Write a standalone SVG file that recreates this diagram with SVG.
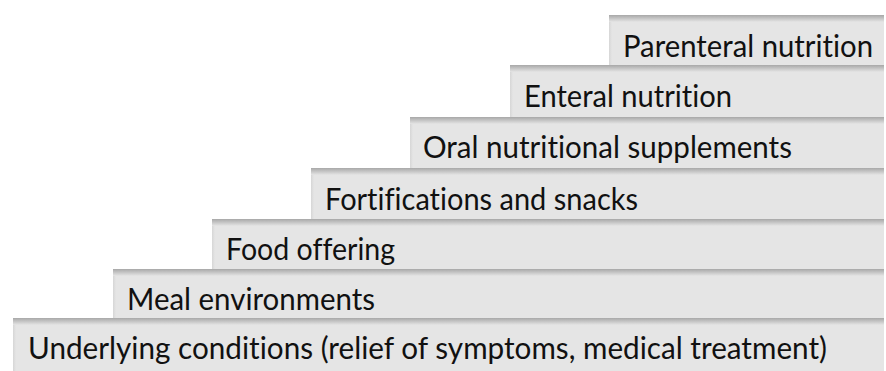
<svg xmlns="http://www.w3.org/2000/svg" width="886" height="371" viewBox="0 0 886 371">
  <defs>
    <linearGradient id="topShade" x1="0" y1="0" x2="0" y2="1">
      <stop offset="0" stop-color="#a8a8a8"/>
      <stop offset="0.5" stop-color="#c6c6c6"/>
      <stop offset="1" stop-color="#e5e5e5"/>
    </linearGradient>
    <linearGradient id="leftShade" x1="0" y1="0" x2="1" y2="0">
      <stop offset="0" stop-color="#d6d6d6"/>
      <stop offset="1" stop-color="#e5e5e5"/>
    </linearGradient>
  </defs>
  <style>
    .step { fill: #e5e5e5; }
    .shade { fill: url(#topShade); }
    .edge { fill: url(#leftShade); }
    .label { font-family: Lato, "Liberation Sans", sans-serif; font-size: 30px; fill: #111111; font-variant-ligatures: none; font-feature-settings: "liga" 0, "dlig" 0; }
  </style>

  <g id="step1">
    <rect class="step" x="13" y="318" width="871" height="53"/>
    <rect class="edge" x="13" y="318" width="3" height="53"/>
    <rect class="shade" x="13" y="318" width="871" height="7"/>
    <text class="label" x="28" y="359" textLength="799" lengthAdjust="spacingAndGlyphs">Underlying conditions (relief of symptoms, medical treatment)</text>
  </g>
  <g id="step2">
    <rect class="step" x="113" y="269" width="771" height="49"/>
    <rect class="edge" x="113" y="269" width="3" height="49"/>
    <rect class="shade" x="113" y="269" width="771" height="7"/>
    <text class="label" x="127" y="310" textLength="248" lengthAdjust="spacingAndGlyphs">Meal environments</text>
  </g>
  <g id="step3">
    <rect class="step" x="212" y="219" width="672" height="50"/>
    <rect class="edge" x="212" y="219" width="3" height="50"/>
    <rect class="shade" x="212" y="219" width="672" height="7"/>
    <text class="label" x="226" y="260" textLength="169" lengthAdjust="spacingAndGlyphs">Food offering</text>
  </g>
  <g id="step4">
    <rect class="step" x="311" y="168" width="573" height="51"/>
    <rect class="edge" x="311" y="168" width="3" height="51"/>
    <rect class="shade" x="311" y="168" width="573" height="7"/>
    <text class="label" x="325" y="210" textLength="313" lengthAdjust="spacingAndGlyphs">Fortifications and snacks</text>
  </g>
  <g id="step5">
    <rect class="step" x="410" y="117" width="474" height="51"/>
    <rect class="edge" x="410" y="117" width="3" height="51"/>
    <rect class="shade" x="410" y="117" width="474" height="7"/>
    <text class="label" x="423" y="158" textLength="369" lengthAdjust="spacingAndGlyphs">Oral nutritional supplements</text>
  </g>
  <g id="step6">
    <rect class="step" x="510" y="65" width="374" height="52"/>
    <rect class="edge" x="510" y="65" width="3" height="52"/>
    <rect class="shade" x="510" y="65" width="374" height="7"/>
    <text class="label" x="524" y="107" textLength="208" lengthAdjust="spacingAndGlyphs">Enteral nutrition</text>
  </g>
  <g id="step7">
    <rect class="step" x="609" y="15" width="275" height="50"/>
    <rect class="edge" x="609" y="15" width="3" height="50"/>
    <rect class="shade" x="609" y="15" width="275" height="7"/>
    <text class="label" x="623" y="57" textLength="250" lengthAdjust="spacingAndGlyphs">Parenteral nutrition</text>
  </g>
  <g id="connectors"/>
</svg>
